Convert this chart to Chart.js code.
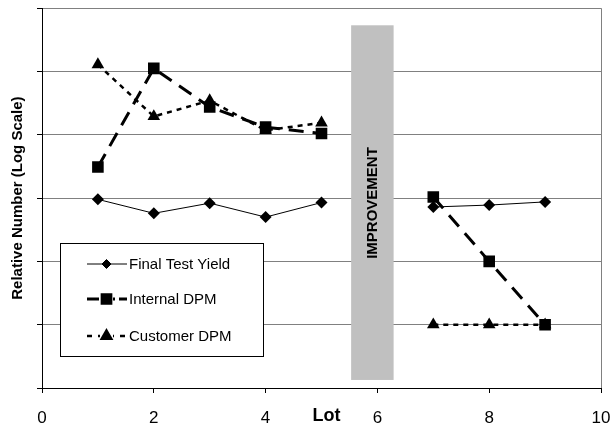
<!DOCTYPE html>
<html>
<head>
<meta charset="utf-8">
<script src="https://cdn.jsdelivr.net/npm/chart.js@4/dist/chart.umd.min.js"></script>
<style>
  body { margin: 0; background: #fff; }
</style>
</head>
<body>
<canvas id="chart" width="612" height="427"></canvas>
<script>
// data (null at lot 6 breaks the lines)
const lots = [1, 2, 3, 4, 5, 6, 7, 8, 9];
const finalTestYield = [955, 575, 832, 501, 851, null, 724, 776, 871];
const internalDPM = [3100, 112000, 27500, 13200, 10500, null, 1040, 100, 10];
const customerDPM = [128800, 19500, 34700, 11750, 15500, null, 10, 10, 10];
const xTicks = [0, 2, 4, 6, 8, 10];
const yDecades = [1, 10, 100, 1000, 10000, 100000, 1000000];
// improvement band in data units
const improveX = [5.53, 6.29];
const improveY = [1.34, 537000];

const FONT = 'Liberation Sans, Arial, sans-serif';

function pts(vals) {
    return lots.map((l, i) => ({ x: l, y: vals[i] }));
}

const series = [
    { label: 'Final Test Yield', data: pts(finalTestYield), style: 'rectRot', radius: 6,
      width: 1, dash: [], legendDash: [], gap: false, order: 2 },
    { label: 'Internal DPM', data: pts(internalDPM), style: 'rect', radius: 8.2,
      width: 3, dash: [15, 9], legendDash: [12, 4], gap: true, order: 1 },
    { label: 'Customer DPM', data: pts(customerDPM), style: 'triangle', radius: 7.3,
      width: 2.5, dash: [5, 5], legendDash: [5, 6], gap: true, order: 0 }
];

const extras = {
    id: 'extras',
    beforeDatasetsDraw(chart) {
        const ctx = chart.ctx;
        const x = chart.scales.x, y = chart.scales.y;
        const x0 = x.getPixelForValue(improveX[0]), x1 = x.getPixelForValue(improveX[1]);
        const y0 = y.getPixelForValue(improveY[1]), y1 = y.getPixelForValue(improveY[0]);
        ctx.save();
        ctx.fillStyle = '#c0c0c0';
        ctx.fillRect(x0, y0, x1 - x0, y1 - y0);
        ctx.translate((x0 + x1) / 2, 203);
        ctx.rotate(-Math.PI / 2);
        ctx.fillStyle = '#000';
        ctx.font = 'bold 15px ' + FONT;
        ctx.textAlign = 'center';
        ctx.textBaseline = 'middle';
        ctx.fillText('IMPROVEMENT', 0, 0);
        ctx.restore();
    },
    afterDraw(chart) {
        const ctx = chart.ctx;
        const area = chart.chartArea;
        ctx.save();
        // x axis title sits on the tick label line
        ctx.fillStyle = '#000';
        ctx.font = 'bold 18px ' + FONT;
        ctx.textAlign = 'center';
        ctx.textBaseline = 'middle';
        ctx.fillText('Lot', (area.left + area.right) / 2 + 5, 416);

        // legend box
        const bx = 60, by = 243, bw = 203, bh = 113;
        ctx.fillStyle = '#fff';
        ctx.fillRect(bx, by, bw, bh);
        ctx.strokeStyle = '#000';
        ctx.lineWidth = 1;
        ctx.strokeRect(bx + 0.5, by + 0.5, bw, bh);
        const rows = [264, 299, 336];
        ctx.font = '15px ' + FONT;
        ctx.textAlign = 'left';
        series.forEach((s, i) => {
            const yy = rows[i];
            ctx.beginPath();
            ctx.setLineDash(s.legendDash);
            ctx.lineWidth = s.width;
            ctx.moveTo(87, yy);
            ctx.lineTo(127, yy);
            ctx.stroke();
            ctx.setLineDash([]);
            if (s.gap) {
                ctx.fillStyle = '#fff';
                ctx.fillRect(100, yy - 6, 13, 12);
            }
            Chart.helpers.drawPoint(ctx, {
                pointStyle: s.style, radius: s.radius * 0.75, borderWidth: 1, rotation: 0
            }, 106.5, yy);
            ctx.fillStyle = '#000';
            ctx.fill();
            ctx.fillText(s.label, 129, yy + 1);
        });
        ctx.restore();
    }
};

new Chart(document.getElementById('chart'), {
    type: 'line',
    data: {
        datasets: series.map(s => ({
            label: s.label,
            data: s.data,
            order: s.order,
            borderColor: '#000',
            backgroundColor: '#000',
            borderWidth: s.width,
            borderDash: s.dash,
            pointStyle: s.style,
            pointRadius: s.radius,
            pointHoverRadius: s.radius,
            pointBackgroundColor: '#000',
            pointBorderColor: '#000',
            pointBorderWidth: 0,
            tension: 0,
            spanGaps: false,
            fill: false
        }))
    },
    options: {
        responsive: false,
        animation: false,
        devicePixelRatio: 1,
        layout: { padding: { left: 0, right: 11, top: 8, bottom: 0 } },
        plugins: {
            legend: { display: false },
            tooltip: { enabled: false }
        },
        scales: {
            x: {
                type: 'linear',
                min: 0,
                max: 10,
                afterBuildTicks: s => { s.ticks = xTicks.map(v => ({ value: v })); },
                afterFit: s => { s.height = 39; s.paddingLeft = 0; s.paddingRight = 0; },
                ticks: { color: '#000', font: { family: FONT, size: 17 }, padding: 15 },
                grid: {
                    color: c => (c.tick && c.tick.value === 10) ? '#808080' : 'rgba(0,0,0,0)',
                    tickColor: '#000',
                    tickLength: 5
                },
                border: { color: '#000', width: 1 }
            },
            y: {
                type: 'logarithmic',
                min: 1,
                max: 1000000,
                afterBuildTicks: s => { s.ticks = yDecades.map(v => ({ value: v })); },
                afterFit: s => { s.width = 42; },
                ticks: { display: false },
                grid: { color: '#808080', tickColor: '#000', tickLength: 5 },
                border: { color: '#000', width: 1 },
                title: {
                    display: true,
                    text: 'Relative Number (Log Scale)',
                    color: '#000',
                    font: { family: FONT, size: 15, weight: 'bold' },
                    padding: { top: 9, bottom: 0 }
                }
            }
        }
    },
    plugins: [extras]
});
</script>
</body>
</html>
